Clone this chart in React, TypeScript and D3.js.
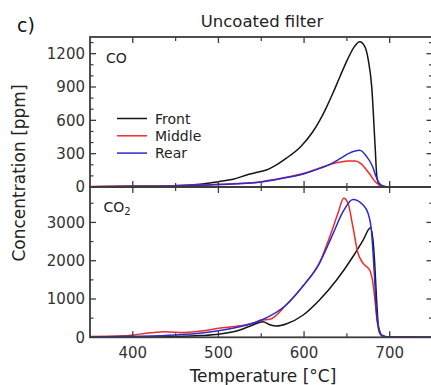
import React from "react";
import * as d3 from "d3";

// Temperature grid and concentrations (ppm) per filter position
const coFrontT = [350, 400, 440, 478, 500, 517, 533, 548, 556, 564, 579, 596, 610, 618, 626, 634, 642, 650, 658, 665, 671, 675, 679, 683, 685, 688, 692, 700, 750];
const coFrontV = [2, 5, 9, 24, 48, 69, 108, 138, 153, 183, 258, 363, 495, 595, 715, 850, 995, 1135, 1255, 1308, 1263, 1143, 903, 363, 93, 18, 5, 2, 0];

const coMiddleT = [350, 400, 450, 500, 550, 575, 600, 620, 633, 643, 652, 660, 666, 676, 684, 690, 700, 750];
const coMiddleV = [5, 8, 12, 24, 48, 80, 123, 175, 210, 225, 233, 235, 213, 123, 40, 10, 2, 0];

const coRearT = [350, 400, 450, 500, 550, 575, 600, 620, 633, 642, 653, 665, 673, 680, 684, 688, 693, 700, 750];
const coRearV = [3, 6, 10, 22, 46, 78, 120, 172, 215, 255, 305, 330, 275, 185, 95, 33, 8, 2, 0];

const co2FrontT = [350, 400, 450, 480, 500, 525, 540, 552, 560, 568, 579, 599, 618, 638, 657, 669, 677.5, 680.5, 682.5, 684.5, 687, 691.7, 700, 750];
const co2FrontV = [5, 8, 20, 45, 80, 190, 321, 408, 330, 295, 347, 582, 974, 1496, 2104, 2540, 2862, 2540, 1932, 1060, 277, 30, 5, 0];

const co2MiddleT = [350, 390, 421, 437, 460, 483, 500, 525, 540, 550, 560, 579, 600, 618, 630, 639.6, 646.3, 651.3, 657, 663, 669, 676.6, 680.5, 684.5, 688.3, 695, 750];
const co2MiddleV = [20, 40, 120, 145, 125, 172, 235, 300, 365, 450, 470, 843, 1370, 1950, 2627, 3238, 3629, 3499, 2888, 2193, 1932, 1757, 1410, 627, 104, 10, 0];

const co2RearT = [350, 400, 450, 480, 500, 540, 550.5, 579, 598.7, 618, 634, 645.5, 657, 669, 674.7, 678.6, 682.5, 685.2, 690, 700, 750];
const co2RearV = [10, 25, 60, 110, 172, 365, 452, 843, 1339, 1932, 2715, 3280, 3600, 3454, 3238, 2802, 1496, 452, 60, 5, 0];

const xMajorTicks = [400, 500, 600, 700];
const xMinorTicks = [450, 550, 650];
const coMajorTicks = [0, 300, 600, 900, 1200];
const coMinorTicks = [100, 200, 400, 500, 700, 800, 1000, 1100, 1300];
const co2MajorTicks = [0, 1000, 2000, 3000];
const co2MinorTicks = [500, 1500, 2500, 3500];

const seriesNames = ["Front", "Middle", "Rear"];
const seriesColors = ["#151515", "#ee2a2a", "#2a2ad0"];

const W = 431;
const H = 385;
const left = 90;
const right = 432.5;
const top1 = 37;
const mid = 187;
const bottom2 = 337.3;

const x = d3.scaleLinear().domain([350, 750]).range([left, right]);
const yCO = d3.scaleLinear().domain([0, 1350]).range([mid, top1]);
const yCO2 = d3.scaleLinear().domain([0, 3925]).range([bottom2, mid]);

const FONT = "'DejaVu Sans', Verdana, sans-serif";
const AXIS = "#3c3c3c";

function pairs(t: number[], v: number[]): [number, number][] {
  return t.map((tt, i) => [tt, v[i]]);
}

function Panel({
  y,
  yTop,
  yBottom,
  major,
  minor,
  series,
  clipId,
}: {
  y: d3.ScaleLinear<number, number>;
  yTop: number;
  yBottom: number;
  major: number[];
  minor: number[];
  series: [number, number][][];
  clipId: string;
}) {
  const line = d3
    .line<[number, number]>()
    .x((d) => x(d[0]))
    .y((d) => y(d[1]))
    .curve(d3.curveMonotoneX);
  return (
    <g>
      <defs>
        <clipPath id={clipId}>
          <rect x={left} y={yTop} width={right - left} height={yBottom - yTop} />
        </clipPath>
      </defs>
      <g clipPath={`url(#${clipId})`}>
        {series.map((s, i) => (
          <path
            key={i}
            d={line(s) ?? ""}
            fill="none"
            stroke={seriesColors[i]}
            strokeWidth={1.5}
            strokeLinejoin="round"
          />
        ))}
      </g>
      {/* frame */}
      <rect
        x={left}
        y={yTop}
        width={right - left}
        height={yBottom - yTop}
        fill="none"
        stroke={AXIS}
        strokeWidth={1.8}
      />
      {/* x ticks on top and bottom edges */}
      {xMajorTicks.map((t) => (
        <g key={"xm" + t}>
          <line x1={x(t)} x2={x(t)} y1={yBottom} y2={yBottom - 6} stroke={AXIS} strokeWidth={1.3} />
          <line x1={x(t)} x2={x(t)} y1={yTop} y2={yTop + 6} stroke={AXIS} strokeWidth={1.3} />
        </g>
      ))}
      {xMinorTicks.map((t) => (
        <g key={"xn" + t}>
          <line x1={x(t)} x2={x(t)} y1={yBottom} y2={yBottom - 4} stroke={AXIS} strokeWidth={1.2} />
          <line x1={x(t)} x2={x(t)} y1={yTop} y2={yTop + 4} stroke={AXIS} strokeWidth={1.2} />
        </g>
      ))}
      {/* y ticks on left and right edges */}
      {major.map((v) => (
        <g key={"ym" + v}>
          <line x1={left} x2={left + 6} y1={y(v)} y2={y(v)} stroke={AXIS} strokeWidth={1.3} />
          <line x1={right} x2={right - 6} y1={y(v)} y2={y(v)} stroke={AXIS} strokeWidth={1.3} />
          <text
            x={left - 5}
            y={y(v)}
            dy="0.36em"
            textAnchor="end"
            fontFamily={FONT}
            fontSize={15}
            fill="#333"
          >
            {v}
          </text>
        </g>
      ))}
      {minor.map((v) => (
        <g key={"yn" + v}>
          <line x1={left} x2={left + 3.5} y1={y(v)} y2={y(v)} stroke={AXIS} strokeWidth={1.2} />
          <line x1={right} x2={right - 3.5} y1={y(v)} y2={y(v)} stroke={AXIS} strokeWidth={1.2} />
        </g>
      ))}
    </g>
  );
}

export default function App() {
  const coSeries = [pairs(coFrontT, coFrontV), pairs(coMiddleT, coMiddleV), pairs(coRearT, coRearV)];
  const co2Series = [pairs(co2FrontT, co2FrontV), pairs(co2MiddleT, co2MiddleV), pairs(co2RearT, co2RearV)];
  return (
    <div style={{ position: "fixed", left: 0, top: 0, width: W, height: H, background: "#fff" }}>
      <svg width={W} height={H} style={{ display: "block" }}>
        <rect width={W} height={H} fill="#fff" />
        <text x={17} y={32} fontFamily={FONT} fontSize={19} fill="#111">
          c)
        </text>
        <text x={262} y={27} textAnchor="middle" fontFamily={FONT} fontSize={16.5} fill="#222">
          Uncoated filter
        </text>

        <Panel y={yCO} yTop={top1} yBottom={mid} major={coMajorTicks} minor={coMinorTicks} series={coSeries} clipId="clipCO" />
        <Panel y={yCO2} yTop={mid} yBottom={bottom2} major={co2MajorTicks} minor={co2MinorTicks} series={co2Series} clipId="clipCO2" />

        {/* panel labels */}
        <text x={106} y={63} fontFamily={FONT} fontSize={14} fill="#222">
          CO
        </text>
        <text x={103.5} y={212} fontFamily={FONT} fontSize={14} fill="#222">
          CO
          <tspan fontSize={10} dy={3}>2</tspan>
        </text>

        {/* legend */}
        {seriesNames.map((name, i) => {
          const ly = 118.5 + i * 17.3;
          return (
            <g key={name}>
              <line x1={117} x2={147} y1={ly} y2={ly} stroke={seriesColors[i]} strokeWidth={1.5} />
              <text x={155} y={ly} dy="0.36em" fontFamily={FONT} fontSize={14} fill="#222">
                {name}
              </text>
            </g>
          );
        })}

        {/* x tick labels */}
        {xMajorTicks.map((t) => (
          <text
            key={"xl" + t}
            x={x(t)}
            y={358}
            textAnchor="middle"
            fontFamily={FONT}
            fontSize={15}
            fill="#333"
          >
            {t}
          </text>
        ))}

        <text x={263} y={382} textAnchor="middle" fontFamily={FONT} fontSize={17} fill="#222">
          Temperature [°C]
        </text>
        <text
          transform="translate(25,173) rotate(-90)"
          textAnchor="middle"
          fontFamily={FONT}
          fontSize={17}
          fill="#222"
        >
          Concentration [ppm]
        </text>
      </svg>
    </div>
  );
}
